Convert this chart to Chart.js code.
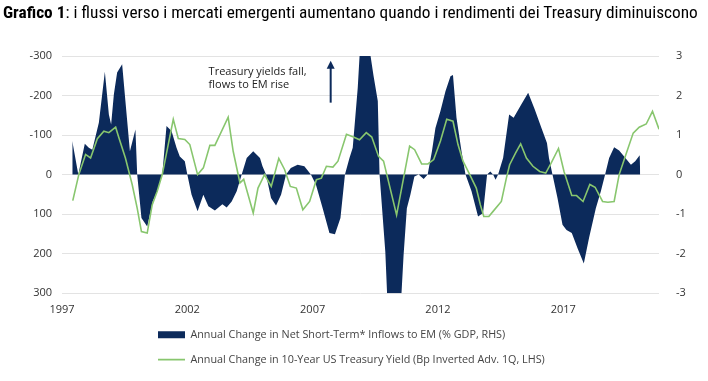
<!DOCTYPE html>
<html>
<head>
<meta charset="utf-8">
<script src="https://cdn.jsdelivr.net/npm/chart.js@4.4.1/dist/chart.umd.min.js"></script>
<style>
  body { margin: 0; background: #fff; }
  #wrap { position: relative; width: 708px; height: 381px; }
  #title {
    position: absolute; left: 3px; top: 2px; white-space: nowrap;
    font-family: "Liberation Sans Narrow", "Roboto Condensed", "DejaVu Sans Condensed", sans-serif;
    font-size: 17.3px; color: #000;
  }
</style>
</head>
<body>
<div id="wrap">
  <div id="title"><b>Grafico 1</b>: i flussi verso i mercati emergenti aumentano quando i rendimenti dei Treasury diminuiscono</div>
  <canvas id="myChart"></canvas>
</div>
<script>
// x axis labels (years)
var yearTicks = [1997, 2002, 2007, 2012, 2017];

// Annual Change in Net Short-Term* Inflows to EM (% GDP, RHS)
var flowYears = [1997.41, 1997.65, 1997.91, 1998.07, 1998.21, 1998.47, 1998.71, 1998.87, 1998.96, 1999.07,
  1999.2, 1999.4, 1999.53, 1999.71, 1999.93, 2000.0, 2000.17, 2000.4, 2000.62, 2000.8,
  2001.0, 2001.17, 2001.37, 2001.57, 2001.7, 2001.9, 2002.0, 2002.17, 2002.41, 2002.64,
  2002.84, 2003.1, 2003.4, 2003.57, 2003.77, 2003.97, 2004.17, 2004.37, 2004.63, 2004.9,
  2005.0, 2005.14, 2005.34, 2005.54, 2005.74, 2005.94, 2006.13, 2006.4, 2006.67, 2006.93,
  2007.13, 2007.4, 2007.67, 2007.89, 2008.11, 2008.29, 2008.47, 2008.6, 2008.8, 2008.9,
  2009.24, 2009.43, 2009.6, 2009.67, 2009.9, 2009.99, 2010.52, 2010.63, 2010.76, 2010.9,
  2011.06, 2011.23, 2011.43, 2011.59, 2011.76, 2011.9, 2012.1, 2012.3, 2012.5, 2012.6,
  2012.74, 2012.94, 2013.1, 2013.34, 2013.6, 2013.8, 2013.96, 2014.09, 2014.2, 2014.3,
  2014.4, 2014.6, 2014.84, 2015.02, 2015.33, 2015.6, 2015.86, 2016.13, 2016.35, 2016.43,
  2016.57, 2016.77, 2016.97, 2017.13, 2017.34, 2017.57, 2017.82, 2018.03, 2018.3, 2018.5,
  2018.67, 2018.83, 2019.03, 2019.23, 2019.43, 2019.7, 2019.87, 2020.05, 2020.07];
var flowValues = [0.85, 0, 0.78, 0.68, 0.63, 1.31, 2.6, 1.52, 1.27, 2.03,
  2.58, 2.79, 1.86, 0.59, 1.14, 0, -1.1, -1.31, -0.68, -0.42,
  0, 1.23, 1.1, 0.68, 0.46, 0.34, 0, -0.51, -0.93, -0.51,
  -0.8, -0.91, -0.75, -0.83, -0.68, -0.42, 0, 0.42, 0.59, 0.42,
  0.21, 0, -0.59, -0.78, -0.51, 0, 0.17, 0.25, 0.21, 0,
  -0.25, -0.85, -1.48, -1.51, -1.1, 0, 0.42, 0.68, 2.2, 3.3,
  3.3, 2.5, 1.86, 0, -1.95, -3.3, -3.3, -2.03, -0.85, -0.51,
  -0.05, 0, -0.11, 0, 0.59, 1.18, 1.61, 2.11, 2.49, 2.52,
  1.44, 0.59, 0, -0.42, -1.06, -0.97, 0, 0.08, 0, -0.13,
  0, 0.42, 1.52, 1.44, 1.78, 2.07, 1.65, 1.18, 0.8, 0.42,
  0, -0.59, -1.27, -1.4, -1.48, -1.86, -2.25, -1.6, -0.85, -0.42,
  0, 0.42, 0.69, 0.61, 0.46, 0.25, 0.34, 0.49, 0];

// Annual Change in 10-Year US Treasury Yield (Bp Inverted Adv. 1Q, LHS)
var yieldYears = [1997.43, 1997.67, 1997.94, 1998.14, 1998.41, 1998.67, 1998.87, 1999.14, 1999.27, 1999.53,
  1999.8, 2000.0, 2000.17, 2000.4, 2000.6, 2000.8, 2001.0, 2001.44, 2001.64, 2001.9,
  2002.1, 2002.41, 2002.64, 2002.9, 2003.1, 2003.63, 2003.83, 2004.1, 2004.25, 2004.63,
  2004.82, 2005.08, 2005.35, 2005.65, 2005.88, 2006.11, 2006.35, 2006.61, 2006.88, 2007.15,
  2007.35, 2007.55, 2007.81, 2008.01, 2008.35, 2008.63, 2008.87, 2009.14, 2009.36, 2009.63,
  2009.83, 2010.35, 2010.87, 2011.07, 2011.35, 2011.6, 2011.83, 2012.1, 2012.35, 2012.6,
  2012.8, 2013.0, 2013.27, 2013.53, 2013.69, 2013.83, 2014.03, 2014.2, 2014.53, 2014.73,
  2014.86, 2015.1, 2015.3, 2015.53, 2015.79, 2016.06, 2016.3, 2016.5, 2016.81, 2017.03,
  2017.34, 2017.53, 2017.79, 2018.06, 2018.27, 2018.57, 2018.78, 2019.03, 2019.23, 2019.5,
  2019.79, 2020.03, 2020.31, 2020.56, 2020.82];
var yieldValues = [66, 0, -51, -42, -91, -110, -106, -120, -93, -42,
  25, 85, 144, 148, 76, 42, 0, -140, -91, -89,
  -76, 0, -17, -74, -74, -145, -59, 21, 12, 97,
  34, 0, 30, -41, -13, 30, 34, 89, 68, 13,
  9, -21, -19, -34, -102, -95, -88, -106, -95, -46,
  -34, 102, -72, -63, -27, -27, -38, -85, -140, -135,
  -76, -34, 0, 34, 76, 106, 106, 93, 68, 9,
  -25, -55, -78, -42, -21, -8, -4, -27, -66, -8,
  53, 53, 68, 25, 32, 68, 70, 68, 0, -51,
  -105, -120, -128, -160, -115];

var seriesNames = ['Annual Change in Net Short-Term* Inflows to EM (% GDP, RHS)',
  'Annual Change in 10-Year US Treasury Yield (Bp Inverted Adv. 1Q, LHS)'];

// annotation text and arrow (year, RHS value)
var noteLines = ['Treasury yields fall,', 'flows to EM rise'];
var notePos = {year: 2002.85, top: 2.6, step: 0.33};
var arrowPos = {year: 2007.72, from: 1.82, to: 2.88};

function toPoints(xs, ys){
    var out = [];
    for (var i = 0; i < xs.length; i++) out.push({x: xs[i], y: ys[i]});
    return out;
}

var annotationPlugin = {
    id: 'note',
    afterLayout: function(chart){
        // legend rows start left-aligned under the chart, not at the canvas edge
        if (chart.legend) chart.legend.left = 144;
    },
    afterDatasetsDraw: function(chart){
        var ctx = chart.ctx;
        var xs = chart.scales.x, ys = chart.scales.y1;
        ctx.save();
        ctx.fillStyle = '#222';
        ctx.font = '11px "Open Sans"';
        ctx.textBaseline = 'middle';
        for (var i = 0; i < noteLines.length; i++) {
            ctx.fillText(noteLines[i], xs.getPixelForValue(notePos.year), ys.getPixelForValue(notePos.top - i * notePos.step));
        }
        // arrow
        var ax = xs.getPixelForValue(arrowPos.year);
        var y0 = ys.getPixelForValue(arrowPos.from), y1 = ys.getPixelForValue(arrowPos.to);
        ctx.strokeStyle = '#0c2a5b';
        ctx.fillStyle = '#0c2a5b';
        ctx.lineWidth = 2;
        ctx.beginPath();
        ctx.moveTo(ax, y0);
        ctx.lineTo(ax, y1 + 6);
        ctx.stroke();
        ctx.beginPath();
        ctx.moveTo(ax, y1);
        ctx.lineTo(ax - 4, y1 + 8);
        ctx.lineTo(ax + 4, y1 + 8);
        ctx.closePath();
        ctx.fill();
        ctx.restore();
    }
};

var ctx = document.getElementById("myChart").getContext('2d');
var myChart = new Chart(ctx, {
    type: 'line',
    data: {
        datasets: [{
            label: seriesNames[0],
            data: toPoints(flowYears, flowValues),
            yAxisID: 'y1',
            backgroundColor: '#0c2a5b',
            borderColor: '#0c2a5b',
            borderWidth: 0,
            fill: 'origin',
            pointRadius: 0,
            tension: 0,
            pointStyle: 'rect',
            order: 2
        }, {
            label: seriesNames[1],
            data: toPoints(yieldYears, yieldValues),
            yAxisID: 'y',
            borderColor: '#88c66e',
            backgroundColor: '#88c66e',
            borderWidth: 1.6,
            fill: false,
            pointRadius: 0,
            tension: 0,
            pointStyle: 'line',
            order: 1
        }]
    },
    options: {
        responsive: true,
        maintainAspectRatio: false,
        animation: false,
        layout: { padding: { top: 56, bottom: 6, left: 0, right: 0 } },
        plugins: {
            tooltip: { enabled: false },
            legend: {
                position: 'bottom',
                align: 'start',
                labels: {
                    usePointStyle: true,
                    pointStyleWidth: 27,
                    boxHeight: 7,
                    padding: 14,
                    color: '#444',
                    font: { family: '"Open Sans"', size: 10.8 },
                    sort: function(a, b){ return a.datasetIndex - b.datasetIndex; }
                }
            }
        },
        scales: {
            x: {
                type: 'linear',
                min: 1997,
                max: 2020.82,
                grid: { display: false },
                border: { display: false },
                afterBuildTicks: function(scale){
                    scale.ticks = yearTicks.map(function(v){ return {value: v}; });
                },
                afterFit: function(scale){ scale.height = scale.height - 3; },
                ticks: {
                    padding: 2,
                    color: '#333',
                    maxRotation: 0,
                    font: { family: '"Open Sans"', size: 11 },
                    callback: function(v){ return String(v); }
                }
            },
            y: {
                position: 'left',
                reverse: true,
                min: -300,
                max: 300,
                afterFit: function(scale){ scale.width = 62; },
                grid: { color: '#e3e3e3', drawTicks: false },
                border: { display: false },
                ticks: {
                    stepSize: 100,
                    padding: 10,
                    color: '#333',
                    font: { family: '"Open Sans"', size: 11 }
                }
            },
            y1: {
                position: 'right',
                min: -3,
                max: 3,
                afterFit: function(scale){ scale.width = 708 - 659; },
                grid: { display: false },
                border: { display: false },
                ticks: {
                    stepSize: 1,
                    padding: 9,
                    color: '#333',
                    font: { family: '"Open Sans"', size: 11 }
                }
            }
        }
    },
    plugins: [annotationPlugin]
});
</script>
</body>
</html>
